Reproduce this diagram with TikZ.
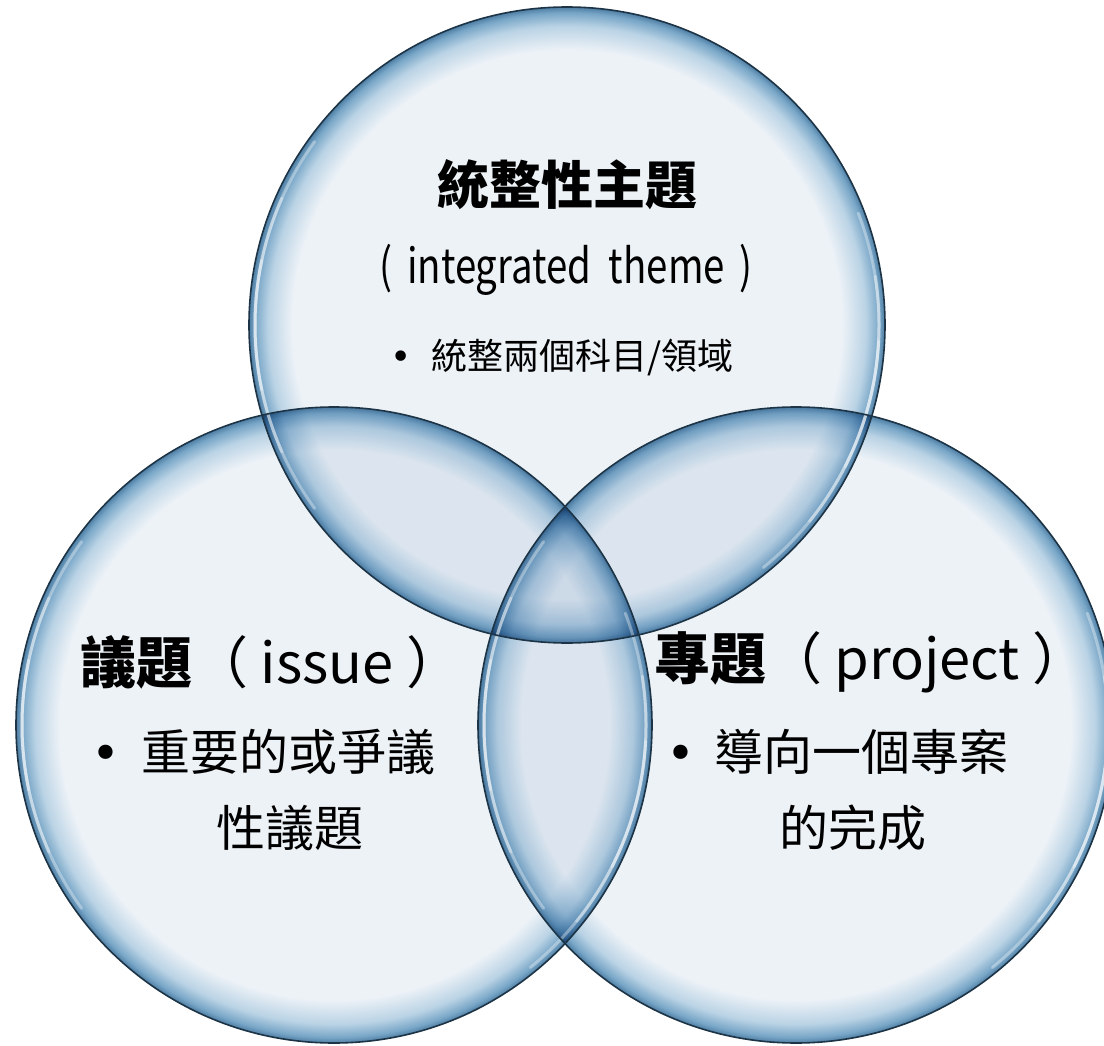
\documentclass[tikz,border=0pt]{standalone}
\usepackage{fontspec}
\newfontfamily\cjk{Noto Sans CJK TC}
\newfontfamily\dejavu{DejaVu Sans}
\definecolor{bubL}{RGB}{237,242,247}
\definecolor{bubM}{RGB}{186,211,229}
\definecolor{bubD}{RGB}{120,166,199}
\definecolor{bubE}{RGB}{78,126,164}
\definecolor{bubO}{RGB}{28,52,70}
\pgfdeclareradialshading{bubble}{\pgfpointorigin}{color(0bp)=(bubL);color(21.6bp)=(bubL);color(23.5bp)=(bubM);color(24.55bp)=(bubD);color(25bp)=(bubE);color(50bp)=(bubE)}
\newcommand{\blt}{{\dejavu •}}
\tikzset{
  bubbleshade/.style={shading=bubble},
  rim/.style={draw=bubO, line width=1.6pt},
  glint/.style={draw=white, line width=3pt, opacity=0.35, line cap=round},
  titletext/.style={font=\cjk\bfseries\fontsize{52}{60}\selectfont, inner sep=0pt},
  headtext/.style={font=\cjk\fontsize{56}{64}\selectfont, inner sep=0pt, anchor=west},
  subtext/.style={font=\cjk\fontsize{48}{54}\selectfont, inner sep=0pt},
  smalltext/.style={font=\cjk\fontsize{36}{40}\selectfont, inner sep=0pt, anchor=west},
  bodytext/.style={font=\cjk\fontsize{49}{56}\selectfont, inner sep=0pt},
}
\begin{document}
\begin{tikzpicture}[x=1pt,y=-1pt]
\useasboundingbox (0,0) rectangle (1104,1046);
\fill[white] (0,0) rectangle (1104,1046);
\coordinate (ct) at (567,325);
\coordinate (cl) at (334,725);
\coordinate (cr) at (796,725);
\begin{scope}[blend mode=multiply]
  \shade[bubbleshade] (ct) circle (318);
  \shade[bubbleshade] (cl) circle (318);
  \shade[bubbleshade] (cr) circle (318);
\end{scope}
\foreach \c in {ct,cl,cr}{
  \foreach \s in {12,24,36}{
    \draw[glint] ([shift={(180-\s:312)}]\c) arc[start angle=180-\s, end angle=180+\s, radius=312];
    \draw[glint] ([shift={(15-\s:312)}]\c) arc[start angle=15-\s, end angle=15+\s, radius=312];
  }
}
\draw[rim] (ct) circle (318);
\draw[rim] (cl) circle (318);
\draw[rim] (cr) circle (318);
% top circle texts
\node[subtext] (t2) at (566,270) {\scalebox{0.8}[1]{(\hspace{18pt}integrated\hspace{22pt}theme\hspace{18pt})}};
\node[titletext] (t1) at (567,185) {統整性主題};
\node[smalltext] (t3) at (390,357) {\blt\hspace{20pt}統整兩個科目/領域};
% left circle texts
\node[headtext] (l1) at (80,662) {\textbf{議題}（ issue ）};
\node[bodytext, anchor=west] (l2) at (91,752) {\blt\hspace{21pt}重要的或爭議};
\node[bodytext] (l3) at (290,828) {性議題};
% right circle texts
\node[headtext] (r1) at (654,662) {\textbf{專題}（ project ）};
\node[bodytext, anchor=west] (r2) at (666,752) {\blt\hspace{19pt}導向一個專案};
\node[bodytext] (r3) at (853,828) {的完成};
\end{tikzpicture}
\end{document}
